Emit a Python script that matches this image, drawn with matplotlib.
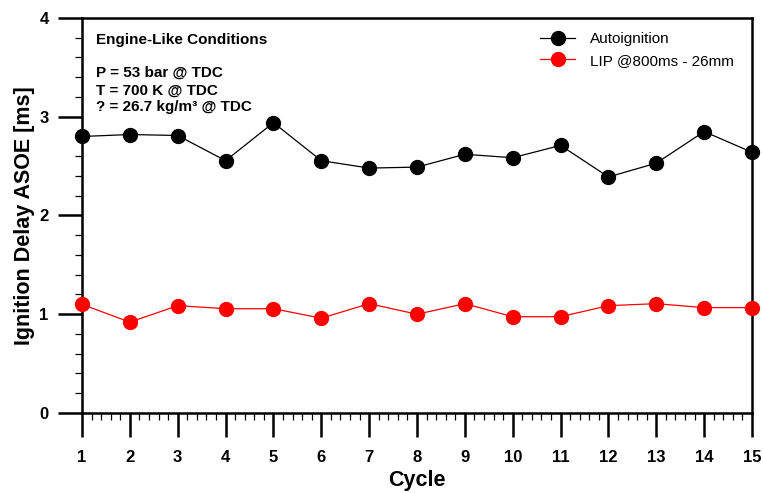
import matplotlib
matplotlib.use("Agg")
import matplotlib.pyplot as plt
from matplotlib.ticker import MultipleLocator

plt.rcParams['font.family'] = ['Liberation Sans', 'DejaVu Sans']

cycles = list(range(1, 16))
autoignition = [2.80, 2.82, 2.81, 2.555, 2.94, 2.555, 2.48, 2.49,
                2.62, 2.585, 2.71, 2.39, 2.53, 2.85, 2.64]
lip = [1.10, 0.92, 1.087, 1.056, 1.056, 0.96, 1.107, 1.00,
       1.107, 0.975, 0.975, 1.087, 1.107, 1.067, 1.067]
x_ticks = list(range(1, 16))
y_ticks = [0, 1, 2, 3, 4]

fig = plt.figure(figsize=(7.63, 4.93), dpi=100)
ax = fig.add_axes([0.1075, 0.1623, 0.8781, 0.8012])

ax.plot(cycles, autoignition, color='black', lw=0.9, marker='o', ms=10,
        label='Autoignition', clip_on=False, zorder=5)
ax.plot(cycles, lip, color='red', lw=0.9, marker='o', ms=10,
        label='LIP @800ms - 26mm', clip_on=False, zorder=5)

ax.set_xlim(1, 15)
ax.set_ylim(0, 4)
ax.set_xticks(x_ticks)
ax.set_yticks(y_ticks)
ax.xaxis.set_minor_locator(MultipleLocator(0.2))
ax.yaxis.set_minor_locator(MultipleLocator(0.2))
ax.tick_params(which='major', direction='out', length=17, width=1.8,
               labelsize=12, pad=7)
ax.tick_params(axis='x', which='major', pad=10)
ax.tick_params(which='minor', direction='out', length=5, width=0.9)
for lab in ax.get_xticklabels() + ax.get_yticklabels():
    lab.set_fontweight('bold')
for s in ax.spines.values():
    s.set_linewidth(1.8)

ax.set_xlabel('Cycle', fontsize=15.5, fontweight='bold', labelpad=3.5)
ax.set_ylabel('Ignition Delay ASOE [ms]', fontsize=15.5, fontweight='bold',
              labelpad=3)

fig.text(0.1258, 0.919, 'Engine-Like Conditions', fontsize=11,
         fontweight='bold', va='center')
fig.text(0.1258, 0.852, 'P = 53 bar @ TDC', fontsize=11,
         fontweight='bold', va='center')
fig.text(0.1258, 0.817, 'T = 700 K @ TDC', fontsize=11,
         fontweight='bold', va='center')
fig.text(0.1258, 0.783, '? = 26.7 kg/m³ @ TDC', fontsize=11,
         fontweight='bold', va='center')

fig.legend(loc='upper left', bbox_to_anchor=(0.7077, 0.935), frameon=False,
           fontsize=11, handlelength=2.3, handletextpad=1.0,
           labelspacing=0.5, borderpad=0, borderaxespad=0)

fig.savefig('out.png', dpi=100)
